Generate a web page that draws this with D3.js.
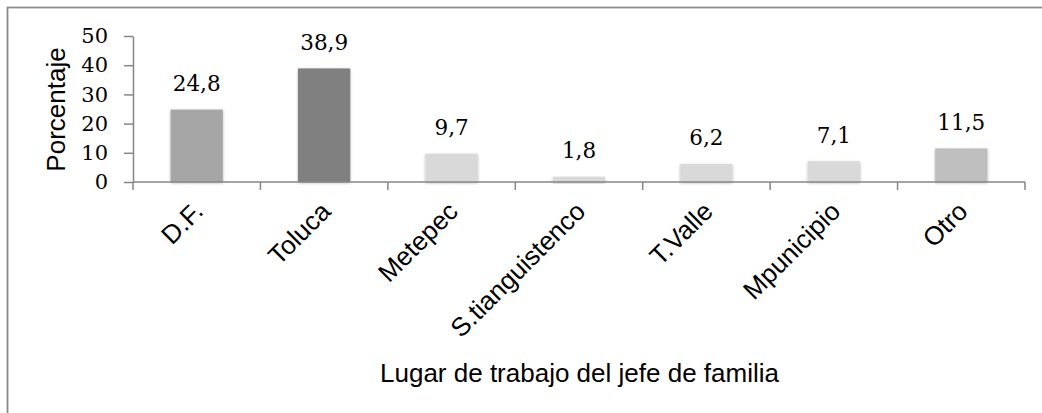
<!DOCTYPE html>
<html>
<head>
<meta charset="utf-8">
<script src="https://cdn.jsdelivr.net/npm/d3@7"></script>
<style>
  html, body { margin: 0; padding: 0; background: #fff; }
  svg { display: block; }
</style>
</head>
<body>
<svg id="chart" width="1042" height="413"></svg>
<script>
// Lugar de trabajo del jefe de familia (%)
const categories = ["D.F.", "Toluca", "Metepec", "S.tianguistenco", "T.Valle", "Mpunicipio", "Otro"];
const values = [24.8, 38.9, 9.7, 1.8, 6.2, 7.1, 11.5];
const valueLabels = ["24,8", "38,9", "9,7", "1,8", "6,2", "7,1", "11,5"];
const barColors = ["#a6a6a6", "#808080", "#d9d9d9", "#d9d9d9", "#d9d9d9", "#d9d9d9", "#bfbfbf"];
const yTicks = [0, 10, 20, 30, 40, 50];

const svg = d3.select("#chart");
const W = 1042, H = 413;
const margin = { left: 133, right: 17, top: 36, bottom: 231 };

const sans = "'Liberation Sans', Arial, sans-serif";
const serif = "'DejaVu Serif', serif";

const x = d3.scaleBand()
  .domain(categories)
  .range([margin.left, W - margin.right])
  .paddingInner(0.59)
  .paddingOuter(0.295);

const y = d3.scaleLinear()
  .domain([0, 50])
  .range([H - margin.bottom, margin.top]);

// outer frame
svg.append("rect")
  .attr("x", 7.5).attr("y", 7.5)
  .attr("width", W + 10).attr("height", H + 10)
  .attr("fill", "none")
  .attr("stroke", "#8c8c8c")
  .attr("stroke-width", 1.8);

// soft shadow under bars
const defs = svg.append("defs");
const f = defs.append("filter").attr("id", "soft")
  .attr("x", "-20%").attr("y", "-20%").attr("width", "140%").attr("height", "140%");
f.append("feGaussianBlur").attr("in", "SourceAlpha").attr("stdDeviation", 1.6).attr("result", "b");
f.append("feOffset").attr("in", "b").attr("dx", 0).attr("dy", 1).attr("result", "o");
f.append("feComponentTransfer").attr("in", "o").attr("result", "s")
  .append("feFuncA").attr("type", "linear").attr("slope", 0.3);
const m = f.append("feMerge");
m.append("feMergeNode").attr("in", "s");
m.append("feMergeNode").attr("in", "SourceGraphic");

// bars
svg.append("g").selectAll("rect")
  .data(values)
  .join("rect")
  .attr("x", (d, i) => x(categories[i]))
  .attr("y", d => y(d))
  .attr("width", x.bandwidth())
  .attr("height", d => y(0) - y(d))
  .attr("fill", (d, i) => barColors[i])
  .attr("filter", "url(#soft)");

// y axis
const yAxis = svg.append("g")
  .attr("transform", `translate(${margin.left},0)`)
  .call(d3.axisLeft(y).tickValues(yTicks).tickSize(9).tickSizeOuter(0).tickPadding(16));
yAxis.select(".domain").attr("stroke", "#868686").attr("stroke-width", 1.5);
yAxis.selectAll(".tick line").attr("stroke", "#868686").attr("stroke-width", 1.5);
yAxis.selectAll(".tick text")
  .attr("font-family", serif)
  .attr("font-size", 21)
  .attr("fill", "#000");

// x axis with boundary ticks between categories
const xAxisG = svg.append("g");
xAxisG.append("line")
  .attr("x1", margin.left).attr("x2", W - margin.right)
  .attr("y1", y(0)).attr("y2", y(0))
  .attr("stroke", "#868686").attr("stroke-width", 1.5);
const step = x.step();
const bounds = d3.range(categories.length + 1).map(i => margin.left + i * step);
xAxisG.selectAll("line.tk")
  .data(bounds)
  .join("line")
  .attr("class", "tk")
  .attr("x1", d => d).attr("x2", d => d)
  .attr("y1", y(0)).attr("y2", y(0) + 8)
  .attr("stroke", "#868686").attr("stroke-width", 1.5);

// rotated category labels
xAxisG.selectAll("text")
  .data(categories)
  .join("text")
  .attr("transform", d => `translate(${x(d) + x.bandwidth() / 2 + 8},${y(0) + 31}) rotate(-45)`)
  .attr("text-anchor", "end")
  .attr("font-family", sans)
  .attr("font-size", 26)
  .attr("fill", "#000")
  .text(d => d);

// value labels
svg.append("g").selectAll("text")
  .data(values)
  .join("text")
  .attr("x", (d, i) => x(categories[i]) + x.bandwidth() / 2)
  .attr("y", d => y(d) - 18.5)
  .attr("text-anchor", "middle")
  .attr("font-family", serif)
  .attr("font-size", 21.5)
  .attr("fill", "#000")
  .text((d, i) => valueLabels[i]);

// axis titles
svg.append("text")
  .attr("transform", `translate(65,109.5) rotate(-90)`)
  .attr("text-anchor", "middle")
  .attr("font-family", sans)
  .attr("font-size", 26)
  .text("Porcentaje");

svg.append("text")
  .attr("x", 579.5)
  .attr("y", 382)
  .attr("text-anchor", "middle")
  .attr("font-family", sans)
  .attr("font-size", 26)
  .text("Lugar de trabajo del jefe de familia");
</script>
</body>
</html>
